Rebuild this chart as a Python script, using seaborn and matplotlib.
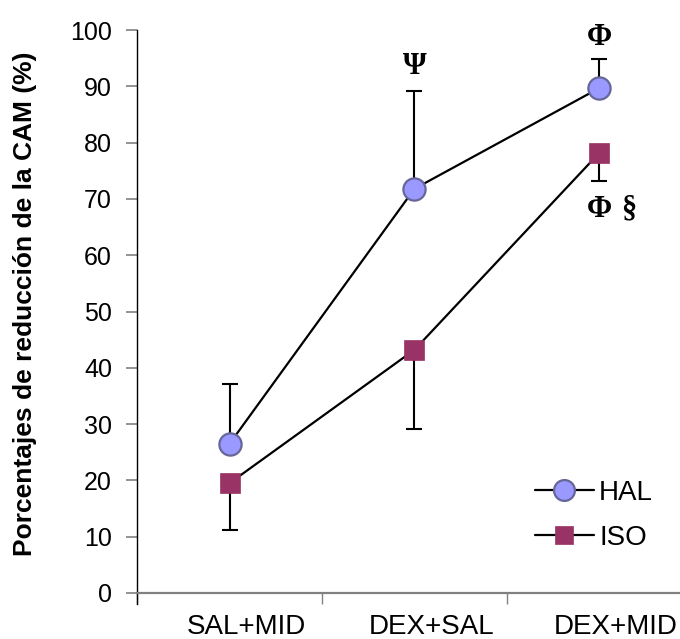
import matplotlib
matplotlib.use("Agg")
import matplotlib.pyplot as plt
import seaborn as sns
import pandas as pd
from matplotlib.lines import Line2D

# Treatment groups and group means / one-sided error (SEM)
groups = ["SAL+MID", "DEX+SAL", "DEX+MID"]
hal_mean = [26.5, 71.8, 89.7]
hal_err = [10.6, 17.4, 5.1]
iso_mean = [19.5, 43.2, 78.2]
iso_err = [8.3, 14.1, 5.0]

sns.set_theme(style="white")
plt.rcParams["font.family"] = ["Liberation Sans", "DejaVu Sans"]
plt.rcParams["text.color"] = "black"
plt.rcParams["xtick.labelcolor"] = "black"
plt.rcParams["ytick.labelcolor"] = "black"
plt.rcParams["axes.labelcolor"] = "black"

df = pd.DataFrame({
    "pos": list(range(len(groups))) * 2,
    "valor": hal_mean + iso_mean,
    "grupo": ["HAL"] * len(groups) + ["ISO"] * len(groups),
})

fig = plt.figure(figsize=(6.8, 6.39), dpi=100)
ax = fig.add_axes([0.2015, 0.072, 0.816, 0.881])

# Error bars: HAL upwards, ISO downwards
x = list(range(len(groups)))
ax.errorbar(x, hal_mean, yerr=[[0] * 3, hal_err], fmt="none", ecolor="black",
            elinewidth=1.5, capsize=6, capthick=1.5, zorder=2)
ax.errorbar(x, iso_mean, yerr=[iso_err, [0] * 3], fmt="none", ecolor="black",
            elinewidth=1.5, capsize=6, capthick=1.5, zorder=2)

sns.lineplot(data=df, x="pos", y="valor", hue="grupo", style="grupo",
             markers={"HAL": "o", "ISO": "s"}, dashes=False,
             palette={"HAL": "black", "ISO": "black"}, linewidth=1.6,
             ax=ax, zorder=3, legend=False)

# Restyle the markers per series
for line, (fc, ec, ms, mew) in zip(ax.lines[-2:],
                                   [("#9999FF", "#666699", 16, 1.6),
                                    ("#993366", "#993366", 14, 0.5)]):
    line.set_markerfacecolor(fc)
    line.set_markeredgecolor(ec)
    line.set_markersize(ms)
    line.set_markeredgewidth(mew)

# Legend
handles = [
    Line2D([], [], color="black", lw=1.6, marker="o", ms=15,
           mfc="#9999FF", mec="#666699", mew=1.6),
    Line2D([], [], color="black", lw=1.6, marker="s", ms=13,
           mfc="#993366", mec="#993366", mew=0.5),
]
ax.legend(handles, ["HAL", "ISO"], loc="lower right", frameon=False,
          fontsize=20, handlelength=2.1, handletextpad=0.2,
          labelspacing=0.7, bbox_to_anchor=(0.975, 0.03))

# Significance symbols
sym = dict(fontfamily="Liberation Serif", fontweight="bold", fontsize=22,
           ha="center", va="center", color="black")
ax.text(1, 93.6, "Ψ", **sym)
ax.text(2, 98.6, "Φ", **sym)
ax.text(2, 68.1, "Φ", **sym)
ax.text(2.16, 68.3, "§", **sym)

# Axes
ax.set_xlim(-0.5, 2.5)
ax.set_ylim(0, 100)
ax.set_yticks(range(0, 101, 10))
ax.set_xticks([-0.5, 0.5, 1.5, 2.5])
ax.set_xticklabels([])
ax.set_xticks([p + 0.09 for p in x], minor=True)
ax.set_xticklabels(groups, minor=True, fontsize=20)
ax.tick_params(axis="x", which="minor", length=0, pad=15)
ax.tick_params(axis="x", which="major", direction="out", length=8,
               width=1, color="#808080", bottom=True)
ax.tick_params(axis="y", direction="out", length=8, width=1.2,
               color="#808080", labelsize=18, pad=10, left=True)
ax.set_xlabel("")
ax.set_ylabel("")
fig.text(25 / 680, 1 - 304 / 639, "Porcentajes de reducción de la CAM (%)",
         rotation=90, ha="center", va="center", fontsize=19,
         fontweight="bold", color="black")

for s in ["top", "right"]:
    ax.spines[s].set_visible(False)
ax.spines["left"].set_color("black")
ax.spines["left"].set_linewidth(1.0)
ax.spines["bottom"].set_color("#808080")
ax.spines["bottom"].set_linewidth(1.6)
ax.spines["left"].set_bounds(-2, 100)

fig.savefig("out.png", dpi=100)
